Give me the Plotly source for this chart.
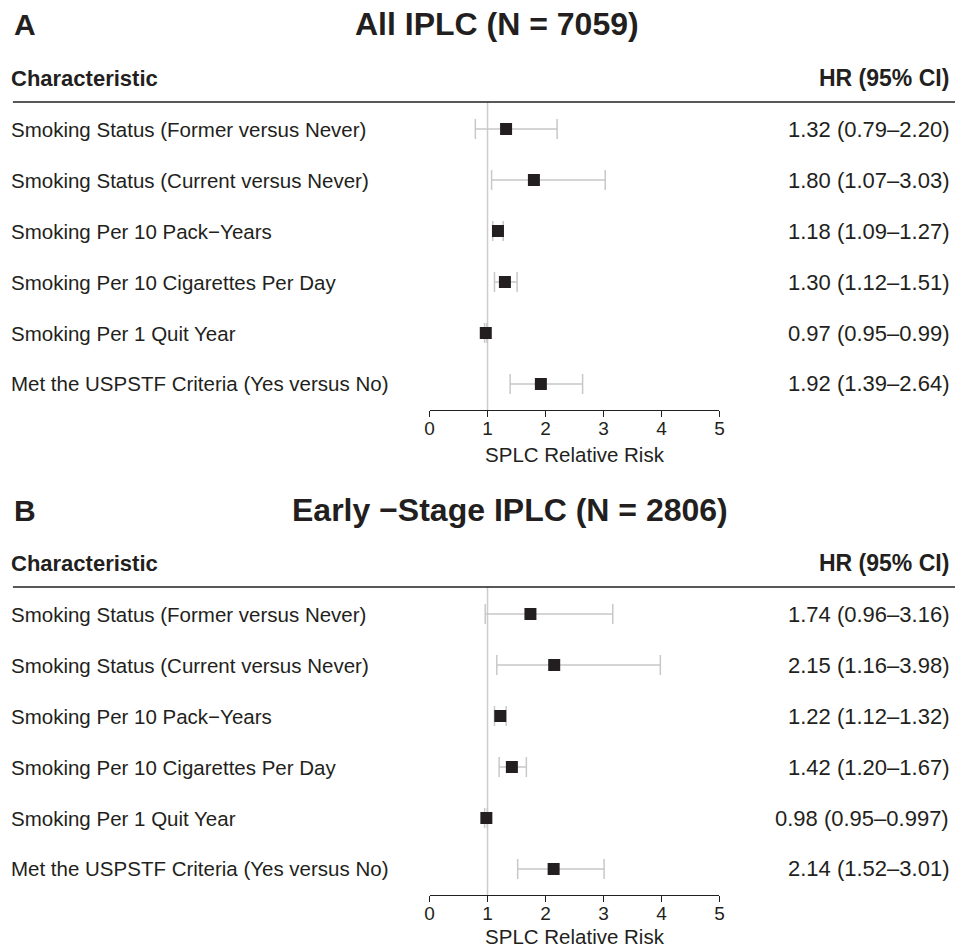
import plotly.graph_objects as go

# ---------------- data ----------------
characteristics = [
    "Smoking Status (Former versus Never)",
    "Smoking Status (Current versus Never)",
    "Smoking Per 10 Pack\u2212Years",
    "Smoking Per 10 Cigarettes Per Day",
    "Smoking Per 1 Quit Year",
    "Met the USPSTF Criteria (Yes versus No)",
]
row_pos = [6, 5, 4, 3, 2, 1]

hr_all = [1.32, 1.80, 1.18, 1.30, 0.97, 1.92]
lo_all = [0.79, 1.07, 1.09, 1.12, 0.95, 1.39]
hi_all = [2.20, 3.03, 1.27, 1.51, 0.99, 2.64]
ci_text_all = [
    "1.32 (0.79\u20132.20)",
    "1.80 (1.07\u20133.03)",
    "1.18 (1.09\u20131.27)",
    "1.30 (1.12\u20131.51)",
    "0.97 (0.95\u20130.99)",
    "1.92 (1.39\u20132.64)",
]

hr_early = [1.74, 2.15, 1.22, 1.42, 0.98, 2.14]
lo_early = [0.96, 1.16, 1.12, 1.20, 0.95, 1.52]
hi_early = [3.16, 3.98, 1.32, 1.67, 0.997, 3.01]
ci_text_early = [
    "1.74 (0.96\u20133.16)",
    "2.15 (1.16\u20133.98)",
    "1.22 (1.12\u20131.32)",
    "1.42 (1.20\u20131.67)",
    "0.98 (0.95\u20130.997)",
    "2.14 (1.52\u20133.01)",
]

x_ticks = [0, 1, 2, 3, 4, 5]
panel_letters = ["A", "B"]
panel_titles = ["All IPLC (N = 7059)", "Early \u2212Stage IPLC (N = 2806)"]
axis_title = "SPLC Relative Risk"
header_left = "Characteristic"
header_right = "HR (95% CI)"

# ---------------- layout helpers ----------------
W, H = 960, 948
FONT = "Liberation Sans, Arial, Helvetica, sans-serif"
DARK = "#231f20"
GREY = "#c8c8c8"


def py(px):
    return 1 - px / H


panels = [
    dict(hr=hr_all, lo=lo_all, hi=hi_all, txt=ci_text_all, off=0,
         title_y=24, title_x=497, xa="x", ya="y"),
    dict(hr=hr_early, lo=lo_early, hi=hi_early, txt=ci_text_early, off=485,
         title_y=510, title_x=510, xa="x2", ya="y2"),
]

fig = go.Figure()
annotations = []
shapes = []
layout_axes = {}

for i, p in enumerate(panels):
    off = p["off"]
    fig.add_trace(go.Scatter(
        x=p["hr"], y=row_pos, mode="markers",
        marker=dict(symbol="square", size=12, color=DARK),
        error_x=dict(type="data", symmetric=False,
                     array=[h - m for h, m in zip(p["hi"], p["hr"])],
                     arrayminus=[m - l for m, l in zip(p["hr"], p["lo"])],
                     color=GREY, thickness=1.5, width=10),
        xaxis=p["xa"], yaxis=p["ya"], showlegend=False, hoverinfo="skip",
    ))
    xkey = "xaxis" if i == 0 else "xaxis2"
    ykey = "yaxis" if i == 0 else "yaxis2"
    layout_axes[xkey] = dict(
        domain=[429 / W, 722 / W], range=[0, 5], anchor=p["ya"],
        showline=True, linecolor=DARK, linewidth=1.2,
        ticks="outside", ticklen=6, tickwidth=1.2, tickcolor=DARK,
        ticklabelstandoff=-5,
        tickvals=x_ticks, ticktext=[str(t) for t in x_ticks],
        tickfont=dict(size=19, color=DARK, family=FONT),
        title=dict(text=axis_title, font=dict(size=20.5, color=DARK, family=FONT),
                   standoff=9),
        showgrid=False, zeroline=False, fixedrange=True,
    )
    layout_axes[ykey] = dict(
        domain=[py(410 + off), py(102 + off)], range=[0.49, 6.53],
        anchor=p["xa"], visible=False, fixedrange=True,
    )
    # reference line at 1
    shapes.append(dict(type="line", xref=p["xa"], x0=1, x1=1,
                       yref=p["ya"] + " domain", y0=0, y1=1,
                       line=dict(color="#cccccc", width=1.5), layer="below"))
    # header rule
    shapes.append(dict(type="line", xref="paper", x0=8 / W, x1=1,
                       yref="paper", y0=py(102 + off), y1=py(102 + off),
                       line=dict(color=DARK, width=1.3)))
    # row labels
    for lab, r, t in zip(characteristics, row_pos, p["txt"]):
        annotations.append(dict(text=lab, x=4 / W, xref="paper", xanchor="left",
                                y=r, yref=p["ya"], yanchor="middle", showarrow=False,
                                font=dict(size=20.5, color=DARK, family=FONT)))
        annotations.append(dict(text=t, x=956 / W, xref="paper", xanchor="right",
                                y=r, yref=p["ya"], yanchor="middle", showarrow=False,
                                font=dict(size=22, color=DARK, family=FONT)))
    # headers
    annotations.append(dict(text="<b>%s</b>" % header_left, x=4 / W, xref="paper",
                            xanchor="left", y=py(78 + off), yref="paper",
                            yanchor="middle", showarrow=False,
                            font=dict(size=22, color=DARK, family=FONT)))
    annotations.append(dict(text="<b>%s</b>" % header_right, x=956 / W, xref="paper",
                            xanchor="right", y=py(78 + off), yref="paper",
                            yanchor="middle", showarrow=False,
                            font=dict(size=23, color=DARK, family=FONT)))
    # titles
    annotations.append(dict(text="<b>%s</b>" % panel_letters[i], x=7 / W,
                            xref="paper", xanchor="left", y=py(p["title_y"]),
                            yref="paper", yanchor="middle", showarrow=False,
                            font=dict(size=30, color=DARK, family=FONT)))
    annotations.append(dict(text="<b>%s</b>" % panel_titles[i],
                            x=p["title_x"] / W, xref="paper",
                            xanchor="center", y=py(p["title_y"]), yref="paper",
                            yanchor="middle", showarrow=False,
                            font=dict(size=32, color=DARK, family=FONT)))

fig.update_layout(
    width=W, height=H,
    margin=dict(l=0, r=0, t=0, b=0),
    paper_bgcolor="white", plot_bgcolor="white",
    showlegend=False,
    annotations=annotations, shapes=shapes,
    font=dict(family=FONT, color=DARK),
    **layout_axes,
)

fig.write_html("out.html")
